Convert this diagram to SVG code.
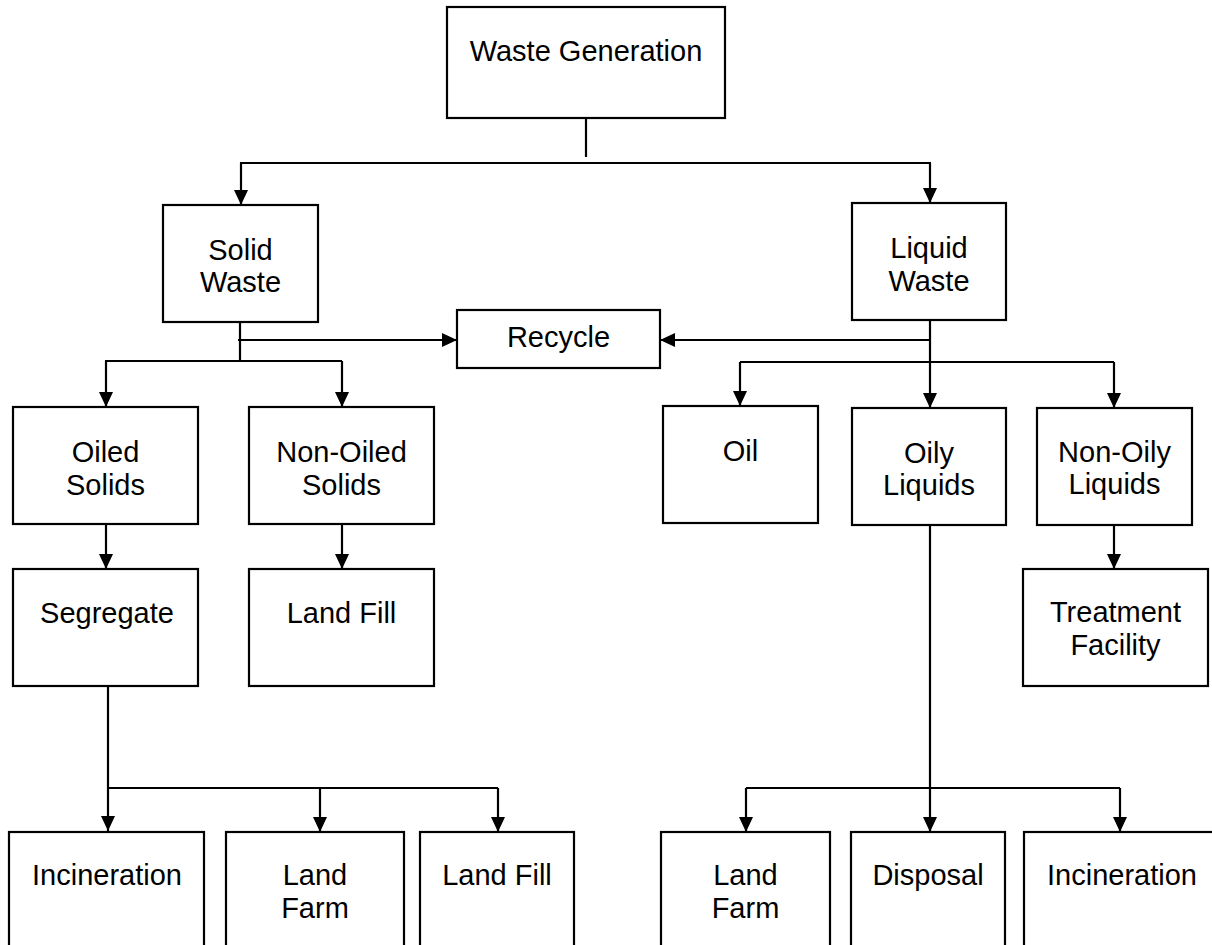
<svg xmlns="http://www.w3.org/2000/svg" width="1212" height="945" viewBox="0 0 1212 945">
<style>
  .box { fill: #ffffff; stroke: #000000; stroke-width: 2.2; }
  .lbl { font-family: "Liberation Sans", Arial, sans-serif; font-size: 29px; fill: #000000; text-anchor: middle; }
  .ln { fill: none; stroke: #000000; stroke-width: 2.2; }
  .arr { fill: none; stroke: #000000; stroke-width: 2.2; marker-end: url(#ah); }
</style>
<defs>
  <marker id="ah" markerUnits="userSpaceOnUse" markerWidth="16" markerHeight="15" refX="15" refY="7" orient="auto">
    <path d="M0,0 L15,7 L0,14 z" fill="#000000"/>
  </marker>
</defs>
<rect width="1212" height="945" fill="#ffffff"/>

<g id="connectors">
  <line class="ln" x1="586" y1="118" x2="586" y2="157"/>
  <line class="ln" x1="240" y1="163" x2="931" y2="163"/>
  <line class="arr" x1="241" y1="163" x2="241" y2="205"/>
  <line class="arr" x1="930" y1="163" x2="930" y2="203"/>

  <line class="ln" x1="240" y1="322" x2="240" y2="361"/>
  <line class="arr" x1="238" y1="340" x2="457" y2="340"/>
  <line class="ln" x1="105" y1="361" x2="342" y2="361"/>
  <line class="arr" x1="106" y1="361" x2="106" y2="407"/>
  <line class="arr" x1="342" y1="361" x2="342" y2="407"/>

  <line class="arr" x1="930" y1="320" x2="930" y2="408"/>
  <line class="arr" x1="931" y1="340" x2="660" y2="340"/>
  <line class="ln" x1="740" y1="362" x2="1114" y2="362"/>
  <line class="arr" x1="740" y1="362" x2="740" y2="406"/>
  <line class="arr" x1="1114" y1="362" x2="1114" y2="408"/>

  <line class="arr" x1="106" y1="524" x2="106" y2="569"/>
  <line class="arr" x1="342" y1="524" x2="342" y2="569"/>
  <line class="arr" x1="1114" y1="525" x2="1114" y2="569"/>

  <line class="arr" x1="108" y1="686" x2="108" y2="831"/>
  <line class="ln" x1="108" y1="788" x2="498" y2="788"/>
  <line class="arr" x1="320" y1="788" x2="320" y2="832"/>
  <line class="arr" x1="498" y1="788" x2="498" y2="832"/>

  <line class="arr" x1="930" y1="525" x2="930" y2="832"/>
  <line class="ln" x1="746" y1="788" x2="1120" y2="788"/>
  <line class="arr" x1="746" y1="788" x2="746" y2="832"/>
  <line class="arr" x1="1120" y1="788" x2="1120" y2="832"/>
</g>

<g id="waste-generation">
  <rect class="box" x="447" y="7" width="278" height="111"/>
  <text class="lbl" x="586" y="61">Waste Generation</text>
</g>
<g id="solid-waste">
  <rect class="box" x="163" y="205" width="155" height="117"/>
  <text class="lbl" x="240.5" y="260">Solid</text>
  <text class="lbl" x="240.5" y="292">Waste</text>
</g>
<g id="liquid-waste">
  <rect class="box" x="852" y="203" width="154" height="117"/>
  <text class="lbl" x="929" y="258">Liquid</text>
  <text class="lbl" x="929" y="291">Waste</text>
</g>
<g id="recycle">
  <rect class="box" x="457" y="310" width="203" height="58"/>
  <text class="lbl" x="558.5" y="347">Recycle</text>
</g>
<g id="oiled-solids">
  <rect class="box" x="13" y="407" width="185" height="117"/>
  <text class="lbl" x="105.5" y="462">Oiled</text>
  <text class="lbl" x="105.5" y="495">Solids</text>
</g>
<g id="non-oiled-solids">
  <rect class="box" x="249" y="407" width="185" height="117"/>
  <text class="lbl" x="341.5" y="462">Non-Oiled</text>
  <text class="lbl" x="341.5" y="495">Solids</text>
</g>
<g id="oil">
  <rect class="box" x="663" y="406" width="155" height="117"/>
  <text class="lbl" x="740.5" y="461">Oil</text>
</g>
<g id="oily-liquids">
  <rect class="box" x="852" y="408" width="154" height="117"/>
  <text class="lbl" x="929" y="463">Oily</text>
  <text class="lbl" x="929" y="495">Liquids</text>
</g>
<g id="non-oily-liquids">
  <rect class="box" x="1037" y="408" width="155" height="117"/>
  <text class="lbl" x="1114.5" y="462">Non-Oily</text>
  <text class="lbl" x="1114.5" y="494">Liquids</text>
</g>
<g id="segregate">
  <rect class="box" x="13" y="569" width="185" height="117"/>
  <text class="lbl" x="107" y="623">Segregate</text>
</g>
<g id="land-fill-solids">
  <rect class="box" x="249" y="569" width="185" height="117"/>
  <text class="lbl" x="341.5" y="623">Land Fill</text>
</g>
<g id="treatment-facility">
  <rect class="box" x="1023" y="569" width="185" height="117"/>
  <text class="lbl" x="1115.5" y="622">Treatment</text>
  <text class="lbl" x="1115.5" y="655">Facility</text>
</g>
<g id="incineration-solids">
  <rect class="box" x="9" y="832" width="195" height="130"/>
  <text class="lbl" x="107" y="885">Incineration</text>
</g>
<g id="land-farm-solids">
  <rect class="box" x="226" y="832" width="178" height="130"/>
  <text class="lbl" x="315" y="885">Land</text>
  <text class="lbl" x="315" y="918">Farm</text>
</g>
<g id="land-fill-segregated">
  <rect class="box" x="420" y="832" width="154" height="130"/>
  <text class="lbl" x="497" y="885">Land Fill</text>
</g>
<g id="land-farm-liquids">
  <rect class="box" x="661" y="832" width="169" height="130"/>
  <text class="lbl" x="745.5" y="885">Land</text>
  <text class="lbl" x="745.5" y="918">Farm</text>
</g>
<g id="disposal">
  <rect class="box" x="851" y="832" width="154" height="130"/>
  <text class="lbl" x="928" y="885">Disposal</text>
</g>
<g id="incineration-liquids">
  <rect class="box" x="1024" y="832" width="192" height="130"/>
  <text class="lbl" x="1122" y="885">Incineration</text>
</g>
</svg>
